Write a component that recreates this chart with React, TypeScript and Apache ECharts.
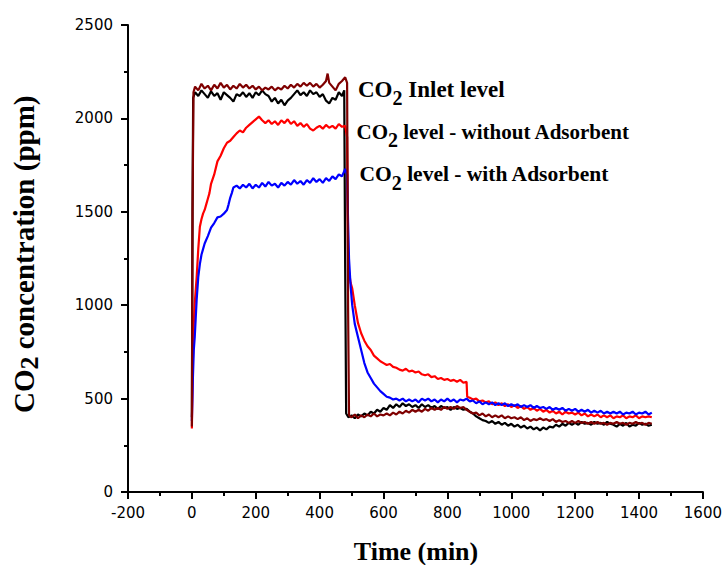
import React, { useEffect, useRef } from "react";
import * as echarts from "echarts";

type P = [number, number];

// Time (min) vs CO2 concentration (ppm)
const inletBlack: P[] = [
  [0, 400], [2, 1500], [4, 2110], [10, 2140], [20, 2120], [30, 2150], [40, 2130], [50, 2110], [60, 2145], [70, 2120],
  [80, 2135], [90, 2100], [100, 2140], [110, 2125], [120, 2110], [130, 2090], [140, 2130], [150, 2120], [160, 2140], [170, 2115],
  [180, 2135], [190, 2110], [200, 2140], [210, 2125], [220, 2150], [230, 2130], [240, 2120], [250, 2090], [260, 2110], [270, 2080],
  [280, 2100], [290, 2070], [300, 2095], [310, 2110], [320, 2130], [330, 2150], [340, 2125], [350, 2140], [360, 2120], [370, 2150],
  [380, 2130], [390, 2140], [400, 2115], [410, 2130], [420, 2095], [430, 2080], [440, 2110], [450, 2100], [460, 2140], [470, 2120],
  [477, 2150], [480, 1200], [483, 420], [490, 400], [500, 410], [510, 395], [520, 415], [530, 405], [540, 420], [550, 410],
  [560, 430], [570, 420], [580, 440], [590, 430], [600, 450], [610, 440], [620, 465], [630, 450], [640, 470], [650, 455],
  [660, 475], [670, 460], [680, 470], [690, 455], [700, 465], [710, 450], [720, 470], [730, 455], [740, 465], [750, 450],
  [760, 460], [770, 445], [780, 460], [790, 450], [800, 455], [810, 440], [820, 455], [830, 445], [840, 450], [850, 440],
  [860, 445], [870, 430], [880, 420], [890, 405], [900, 395], [910, 385], [920, 380], [930, 370], [940, 380], [950, 365],
  [960, 375], [970, 360], [980, 370], [990, 355], [1000, 365], [1010, 350], [1020, 360], [1030, 345], [1040, 355], [1050, 340],
  [1060, 350], [1070, 335], [1080, 345], [1090, 330], [1100, 345], [1110, 335], [1120, 350], [1130, 345], [1140, 360], [1150, 350],
  [1160, 365], [1170, 355], [1180, 370], [1190, 360], [1200, 370], [1210, 360], [1220, 375], [1230, 365], [1240, 370], [1250, 360],
  [1260, 375], [1270, 365], [1280, 370], [1290, 360], [1300, 375], [1310, 365], [1320, 360], [1330, 350], [1340, 365], [1350, 355],
  [1360, 370], [1370, 350], [1380, 360], [1390, 355], [1400, 370], [1410, 360], [1420, 365], [1430, 355], [1440, 360],
];

const inletDarkRed: P[] = [
  [0, 350], [2, 1500], [5, 2140], [10, 2170], [20, 2150], [30, 2185], [40, 2160], [50, 2175], [60, 2150], [70, 2180],
  [80, 2160], [90, 2190], [100, 2165], [110, 2180], [120, 2155], [130, 2175], [140, 2160], [150, 2185], [160, 2165], [170, 2180],
  [180, 2160], [190, 2175], [200, 2155], [210, 2170], [220, 2150], [230, 2165], [240, 2155], [250, 2170], [260, 2150], [270, 2165],
  [280, 2155], [290, 2175], [300, 2160], [310, 2180], [320, 2165], [330, 2185], [340, 2170], [350, 2190], [360, 2175], [370, 2190],
  [380, 2170], [390, 2185], [400, 2165], [410, 2180], [420, 2200], [425, 2240], [430, 2190], [440, 2170], [450, 2150], [460, 2185],
  [470, 2200], [480, 2220], [486, 2190], [489, 1000], [492, 410], [500, 400], [510, 415], [520, 395], [530, 410], [540, 400],
  [550, 415], [560, 405], [570, 420], [580, 405], [590, 415], [600, 410], [610, 420], [620, 410], [630, 425], [640, 415],
  [650, 430], [660, 420], [670, 435], [680, 425], [690, 440], [700, 430], [710, 440], [720, 430], [730, 445], [740, 435],
  [750, 450], [760, 440], [770, 450], [780, 440], [790, 455], [800, 445], [810, 455], [820, 445], [830, 460], [840, 450],
  [850, 455], [860, 440], [870, 430], [880, 420], [890, 425], [900, 410], [910, 420], [920, 405], [930, 415], [940, 400],
  [950, 410], [960, 400], [970, 410], [980, 395], [990, 405], [1000, 395], [1010, 400], [1020, 390], [1030, 400], [1040, 385],
  [1050, 395], [1060, 380], [1070, 390], [1080, 385], [1090, 395], [1100, 385], [1110, 390], [1120, 380], [1130, 390], [1140, 375],
  [1150, 385], [1160, 375], [1170, 380], [1180, 370], [1190, 380], [1200, 370], [1210, 380], [1220, 370], [1230, 375], [1240, 365],
  [1250, 375], [1260, 365], [1270, 375], [1280, 365], [1290, 370], [1300, 360], [1310, 370], [1320, 365], [1330, 375], [1340, 365],
  [1350, 370], [1360, 360], [1370, 370], [1380, 365], [1390, 375], [1400, 365], [1410, 370], [1420, 360], [1430, 370], [1440, 365],
];

const withoutAdsorbent: P[] = [
  [0, 340], [3, 700], [6, 900], [9, 1010], [15, 1150], [20, 1300], [25, 1420], [30, 1460], [35, 1490], [40, 1510],
  [45, 1540], [50, 1570], [55, 1600], [60, 1650], [70, 1700], [80, 1770], [90, 1800], [100, 1840], [110, 1870], [120, 1880],
  [130, 1900], [140, 1920], [150, 1935], [160, 1925], [170, 1950], [180, 1965], [190, 1980], [200, 1995], [210, 2010], [220, 1990],
  [230, 1975], [240, 1990], [250, 1970], [260, 1985], [270, 1965], [280, 1990], [290, 1975], [300, 1995], [310, 1970], [320, 1985],
  [330, 1960], [340, 1975], [350, 1955], [360, 1970], [370, 1945], [380, 1935], [390, 1950], [400, 1960], [410, 1945], [420, 1965],
  [430, 1950], [440, 1960], [450, 1945], [460, 1970], [470, 1955], [480, 1960], [486, 1900], [489, 1300], [492, 1180], [497, 1120],
  [502, 1090], [510, 1000], [520, 905], [530, 850], [540, 810], [550, 780], [560, 760], [570, 730], [580, 715], [590, 700],
  [600, 690], [610, 680], [620, 685], [630, 670], [640, 665], [650, 655], [660, 650], [670, 660], [680, 645], [690, 650],
  [700, 640], [710, 645], [720, 630], [730, 625], [740, 630], [750, 615], [760, 620], [770, 605], [780, 610], [790, 600],
  [800, 605], [810, 595], [820, 600], [830, 590], [840, 600], [850, 585], [860, 590], [862, 510], [870, 505], [880, 495],
  [890, 500], [900, 485], [910, 490], [920, 480], [930, 485], [940, 470], [950, 480], [960, 465], [970, 475], [980, 460],
  [990, 470], [1000, 455], [1010, 465], [1020, 450], [1030, 460], [1040, 445], [1050, 455], [1060, 440], [1070, 450], [1080, 435],
  [1090, 445], [1100, 430], [1110, 440], [1120, 425], [1130, 435], [1140, 420], [1150, 430], [1160, 415], [1170, 430], [1180, 420],
  [1190, 425], [1200, 415], [1210, 425], [1220, 410], [1230, 420], [1240, 405], [1250, 415], [1260, 405], [1270, 415], [1280, 400],
  [1290, 410], [1300, 400], [1310, 410], [1320, 395], [1330, 405], [1340, 400], [1350, 410], [1360, 395], [1370, 405], [1380, 400],
  [1390, 410], [1400, 395], [1410, 405], [1420, 400], [1430, 405], [1440, 400],
];

const withAdsorbent: P[] = [
  [0, 380], [3, 600], [6, 760], [9, 830], [12, 930], [15, 1030], [20, 1150], [25, 1220], [30, 1270], [35, 1300],
  [40, 1330], [50, 1370], [60, 1415], [70, 1440], [80, 1470], [90, 1475], [100, 1490], [110, 1510], [115, 1540], [120, 1575],
  [125, 1600], [130, 1630], [140, 1640], [150, 1625], [160, 1645], [170, 1630], [180, 1650], [190, 1625], [200, 1645], [210, 1630],
  [220, 1655], [230, 1635], [240, 1660], [250, 1640], [260, 1650], [270, 1630], [280, 1655], [290, 1640], [300, 1660], [310, 1645],
  [320, 1670], [330, 1650], [340, 1665], [350, 1645], [360, 1670], [370, 1655], [380, 1680], [390, 1660], [400, 1675], [410, 1655],
  [420, 1680], [430, 1665], [440, 1690], [450, 1675], [460, 1700], [470, 1690], [480, 1730], [486, 1700], [489, 1450], [492, 1250],
  [497, 1100], [502, 1000], [510, 900], [520, 830], [530, 760], [540, 690], [550, 640], [560, 610], [570, 580], [580, 560],
  [590, 540], [600, 525], [610, 510], [620, 505], [630, 495], [640, 500], [650, 490], [660, 500], [670, 485], [680, 495],
  [690, 485], [700, 495], [710, 480], [720, 500], [730, 490], [740, 500], [750, 485], [760, 495], [770, 480], [780, 495],
  [790, 485], [800, 500], [810, 485], [820, 495], [830, 480], [840, 495], [850, 490], [860, 500], [870, 485], [880, 490],
  [890, 475], [900, 485], [910, 470], [920, 480], [930, 470], [940, 480], [950, 465], [960, 475], [970, 465], [980, 475],
  [990, 460], [1000, 470], [1010, 460], [1020, 470], [1030, 455], [1040, 465], [1050, 455], [1060, 465], [1070, 450], [1080, 460],
  [1090, 450], [1100, 455], [1110, 445], [1120, 455], [1130, 440], [1140, 450], [1150, 440], [1160, 450], [1170, 435], [1180, 445],
  [1190, 435], [1200, 445], [1210, 430], [1220, 440], [1230, 430], [1240, 440], [1250, 425], [1260, 435], [1270, 425], [1280, 435],
  [1290, 420], [1300, 430], [1310, 420], [1320, 430], [1330, 420], [1340, 430], [1350, 415], [1360, 425], [1370, 420], [1380, 430],
  [1390, 415], [1400, 425], [1410, 420], [1420, 430], [1430, 415], [1440, 425],
];

const xTitle = "Time (min)";
const yTitleRest = " concentration (ppm)";
const labelInlet = " Inlet level";
const labelWithout = " level - without Adsorbent";
const labelWith = " level - with Adsorbent";

const SERIF = '"Liberation Serif", "Times New Roman", serif';

function co2Text(
  x: number,
  y: number,
  fs: number,
  subFs: number,
  dy: number,
  rest: string,
  rotation = 0
) {
  const base = {
    fontFamily: SERIF,
    fontWeight: "bold",
    fill: "#000",
    align: "left",
    verticalAlign: "middle",
  };
  return {
    type: "group",
    x,
    y,
    rotation,
    silent: true,
    children: [
      { type: "text", x: 0, y: 0, style: { ...base, text: "CO", fontSize: fs } },
      { type: "text", x: 1.5 * fs, y: dy, style: { ...base, text: "2", fontSize: subFs } },
      { type: "text", x: 1.5 * fs + 0.5 * subFs, y: 0, style: { ...base, text: rest, fontSize: fs } },
    ],
  };
}

export default function App() {
  const ref = useRef<HTMLDivElement>(null);
  useEffect(() => {
    if (!ref.current) return;
    const chart = echarts.init(ref.current, undefined, { renderer: "svg" });
    const axisCommon = {
      type: "value",
      splitLine: { show: false },
      axisLine: { show: true, onZero: false, lineStyle: { color: "#000", width: 2 } },
      axisTick: { show: true, inside: false, length: 7, lineStyle: { color: "#000", width: 2 } },
      minorTick: { show: true, splitNumber: 2, length: 4, lineStyle: { color: "#000", width: 2 } },
      axisLabel: {
        color: "#000",
        fontFamily: '"DejaVu Sans", sans-serif',
        fontSize: 15,
        formatter: (v: number) => String(v),
      },
    };
    const mk = (name: string, data: P[], color: string, z: number) => ({
      name,
      type: "line",
      data,
      showSymbol: false,
      symbol: "none",
      z,
      lineStyle: { color, width: 2.2 },
      itemStyle: { color },
    });
    chart.setOption({
      animation: false,
      backgroundColor: "#fff",
      grid: { left: 128, right: 21, top: 25, bottom: 73 },
      xAxis: {
        ...axisCommon,
        min: -200,
        max: 1600,
        interval: 200,
        axisLabel: { ...axisCommon.axisLabel, margin: 13 },
      },
      yAxis: {
        ...axisCommon,
        min: 0,
        max: 2500,
        interval: 500,
        axisLabel: { ...axisCommon.axisLabel, margin: 15 },
      },
      series: [
        mk("CO2 Inlet level (black)", inletBlack, "#000000", 2),
        mk("CO2 level - without Adsorbent", withoutAdsorbent, "#ff0000", 3),
        mk("CO2 level - with Adsorbent", withAdsorbent, "#0000ff", 4),
        mk("CO2 Inlet level", inletDarkRed, "#7f0000", 5),
      ],
      graphic: [
        co2Text(358, 89.5, 23, 20, 8, labelInlet),
        co2Text(356.5, 131.5, 21, 20, 8.5, labelWithout),
        co2Text(359.5, 174, 21.5, 20, 9, labelWith),
        co2Text(23.5, 413, 29, 26, 6, yTitleRest, Math.PI / 2),
        {
          type: "text",
          x: 416,
          y: 551,
          silent: true,
          style: {
            text: xTitle,
            fontFamily: SERIF,
            fontWeight: "bold",
            fontSize: 26,
            fill: "#000",
            align: "center",
            verticalAlign: "middle",
          },
        },
      ],
    });
    return () => chart.dispose();
  }, []);
  return <div ref={ref} style={{ width: 725, height: 565, position: "absolute", left: 0, top: 0 }} />;
}
